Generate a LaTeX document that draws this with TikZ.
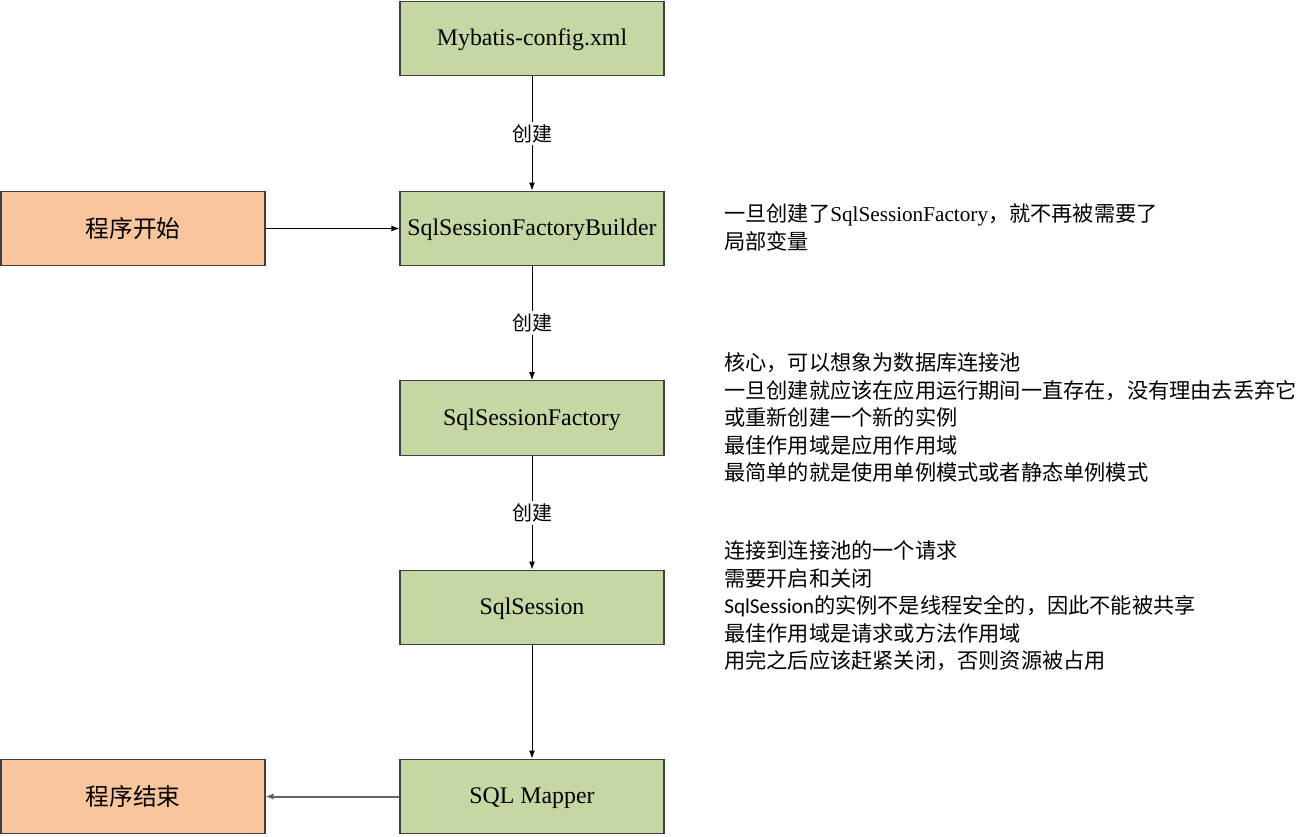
\documentclass[tikz,border=0pt]{standalone}
\usepackage{fontspec}
\setmainfont{Liberation Serif}
\newfontfamily\cjk{Noto Sans CJK SC}
\newfontfamily\calib{Carlito}
\usepackage{xcolor}
\usetikzlibrary{arrows.meta, positioning}
\definecolor{boxgreen}{HTML}{C5D8A4}
\definecolor{boxorange}{HTML}{F8C59C}
\definecolor{boxline}{HTML}{3F3F3F}
\tikzset{
    boxbase/.style={draw=boxline, line width=0.9pt, minimum width=198pt, minimum height=56pt, inner sep=0pt},
    objbox/.style={boxbase, fill=boxgreen, text height=13pt, text depth=2pt, font=\fontsize{17.9}{20}\selectfont},
    endbox/.style={boxbase, fill=boxorange, font=\cjk\fontsize{17.8}{20}\selectfont},
    flow/.style={draw=black, line width=0.75pt, -{Latex[length=6pt,width=4.5pt]}},
    verb/.style={fill=white, inner sep=2pt, font=\cjk\fontsize{15}{18}\selectfont},
    note/.style={anchor=north west, align=left, inner sep=0pt, font=\cjk\fontsize{15.9}{20.6}\selectfont}
}
\begin{document}
\begin{tikzpicture}[x=0.75pt, y=-0.75pt]
    \useasboundingbox (0,0) rectangle (1310,836);
    \node[objbox] (config) at (532,38.5) {Mybatis-config.xml};
    \node[objbox] (builder) at (532,228.5) {SqlSessionFactoryBuilder};
    \node[objbox] (factory) at (532,418) {SqlSessionFactory};
    \node[objbox] (session) at (532,607.5) {SqlSession};
    \node[objbox] (mapper) at (532,796.5) {SQL Mapper};
    \node[endbox] (start) at (133,228.5) {程序开始};
    \node[endbox] (stop) at (133,796.5) {程序结束};
    % flow
    \draw[flow] (config) -- node[verb] {创建} (builder);
    \draw[flow] (builder) -- node[verb] {创建} (factory);
    \draw[flow] (factory) -- node[verb] {创建} (session);
    \draw[flow] (session) -- (mapper);
    \draw[flow] (start) -- (builder);
    \draw[flow, draw=black!60, line width=1.5pt, -{Latex[length=6pt,width=5pt,fill=black]}] (mapper) -- (stop);
    % notes
    \node[note] (builder note) at (724,203.5) {一旦创建了{\rmfamily SqlSessionFactory}，就不再被需要了\\局部变量};
    \node[note] (factory note) at (724,352.5) {核心，可以想象为数据库连接池\\一旦创建就应该在应用运行期间一直存在，没有理由去丢弃它\\或重新创建一个新的实例\\最佳作用域是应用作用域\\最简单的就是使用单例模式或者静态单例模式};
    \node[note] (session note) at (724,540.5) {连接到连接池的一个请求\\需要开启和关闭\\{\calib SqlSession}的实例不是线程安全的，因此不能被共享\\最佳作用域是请求或方法作用域\\用完之后应该赶紧关闭，否则资源被占用};
\end{tikzpicture}
\end{document}
